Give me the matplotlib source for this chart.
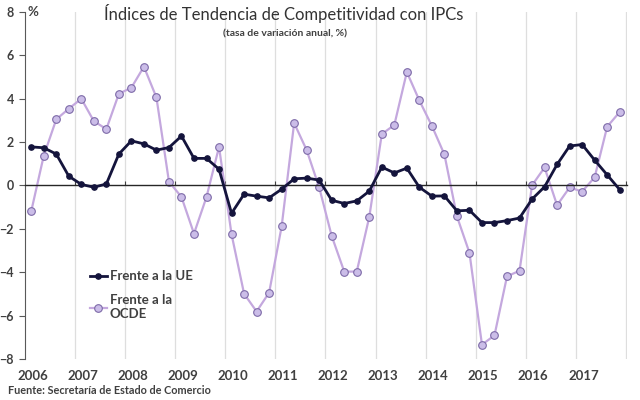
import numpy as np
import matplotlib
matplotlib.use("Agg")
import matplotlib.pyplot as plt

plt.rcParams['font.family'] = ['Lato', 'DejaVu Sans']

# --- Datos (trimestrales, 2006T1 - 2017T4) ---
years = ['2006', '2007', '2008', '2009', '2010', '2011',
         '2012', '2013', '2014', '2015', '2016', '2017']
frente_ue = [1.78, 1.74, 1.45, 0.43, 0.05, -0.08, 0.07, 1.45,
             2.06, 1.92, 1.63, 1.75, 2.28, 1.25, 1.25, 0.75,
             -1.28, -0.40, -0.49, -0.57, -0.17, 0.31, 0.34, 0.25,
             -0.68, -0.83, -0.71, -0.26, 0.85, 0.58, 0.80, -0.08,
             -0.49, -0.48, -1.17, -1.14, -1.71, -1.71, -1.62, -1.50,
             -0.63, -0.06, 0.97, 1.82, 1.89, 1.17, 0.49, -0.19]
frente_ocde = [-1.19, 1.37, 3.05, 3.54, 4.00, 2.97, 2.60, 4.23,
               4.51, 5.48, 4.06, 0.18, -0.53, -2.22, -0.53, 1.78,
               -2.25, -4.99, -5.81, -4.94, -1.89, 2.88, 1.63, -0.09,
               -2.33, -3.97, -3.97, -1.45, 2.37, 2.79, 5.23, 3.92,
               2.75, 1.43, -1.42, -3.10, -7.34, -6.91, -4.19, -3.93,
               0.01, 0.83, -0.91, -0.09, -0.28, 0.38, 2.71, 3.39]

x = np.arange(len(frente_ue))
txt = '#404040'

fig = plt.figure(figsize=(6.4, 4.0), dpi=100)
ax = fig.add_axes([0.039, 0.1025, 0.941, 0.8675])

# lineas verticales de separacion de anos
for k in range(len(years)):
    ax.axvline(3.5 + 4 * k, color='#dedede', lw=0.9, zorder=0)

l_ocde, = ax.plot(x, frente_ocde, color='#c4a8de', lw=1.6, marker='o', ms=5.5,
                  mfc='#cbbde8', mec='#7d6aa8', mew=0.8,
                  label='Frente a la\nOCDE', zorder=2)
l_ue, = ax.plot(x, frente_ue, color='#14143c', lw=2.0, marker='o', ms=3.8,
                mfc='#14143c', mec='#14143c', label='Frente a la UE', zorder=3)

ax.set_xlim(-0.5, 47.6)
ax.set_ylim(-8, 8)
ax.set_yticks(range(-8, 9, 2))

ax.spines['top'].set_visible(False)
ax.spines['right'].set_visible(False)
ax.spines['left'].set_color('#595959')
ax.spines['bottom'].set_position(('data', 0))
ax.spines['bottom'].set_color('#262626')
ax.spines['bottom'].set_linewidth(1.0)

ax.set_xticks(3.5 + 4 * np.arange(len(years)))
ax.tick_params(axis='x', direction='in', length=3, color='#404040',
               labelbottom=False)
ax.tick_params(axis='y', length=4, color='#595959', labelsize=9,
               labelcolor=txt, pad=4)
for lab in ax.get_yticklabels():
    lab.set_fontweight('bold')

sec = ax.secondary_xaxis(0)
sec.set_xticks(4 * np.arange(len(years)) + 0.1)
sec.set_xticklabels(years, fontsize=9.5, fontweight='bold', color=txt)
sec.tick_params(length=0, pad=8)
sec.spines['bottom'].set_visible(False)

leg = ax.legend(handles=[l_ue, l_ocde], loc='upper left',
                bbox_to_anchor=(0.088, 0.29), frameon=False,
                prop={'size': 9.5, 'weight': 'bold'}, handlelength=1.3,
                handletextpad=0.2, labelspacing=0.9, labelcolor=txt)

fig.text(0.444, 0.966, 'Índices de Tendencia de Competitividad con IPCs',
         ha='center', va='center', fontsize=12, color='#333333')
fig.text(0.445, 0.915, '(tasa de variación anual, %)', ha='center',
         va='center', fontsize=7.5, fontweight='bold', color=txt)
fig.text(0.052, 0.969, '%', ha='center', va='center', fontsize=9.5,
         fontweight='bold', color=txt)
fig.text(0.012, 0.024, 'Fuente: Secretaría de Estado de Comercio',
         ha='left', va='center', fontsize=7.8, fontweight='bold', color=txt)

fig.savefig('out.png', dpi=100, facecolor='white')
